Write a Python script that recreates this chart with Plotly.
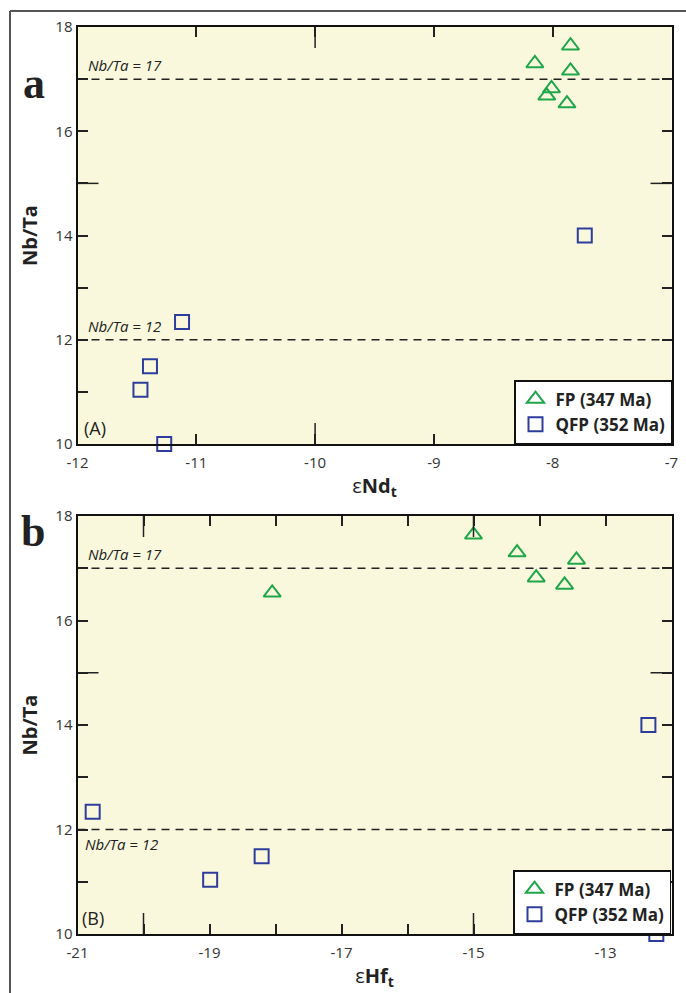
import plotly.graph_objects as go

W, H = 686, 993

# ---- data ----
fp_nbta = [17.64, 17.30, 17.16, 16.82, 16.68, 16.53]
fp_end = [-7.85, -8.15, -7.85, -8.01, -8.05, -7.88]
fp_ehf = [-15.00, -14.34, -13.44, -14.05, -13.62, -18.05]

qfp_nbta = [14.0, 12.34, 11.49, 11.04, 10.0]
qfp_end = [-7.73, -11.12, -11.39, -11.47, -11.27]
qfp_ehf = [-12.35, -20.77, -18.21, -18.99, -12.23]

ref_lines = [17, 12]
nd_range = [-12, -7]
hf_range = [-21, -12]
y_range = [10, 18]
nd_ticks = [-12, -11, -10, -9, -8, -7]
nd_ticktext = ["-12", "-11", "-10", "-9", "-8", "-7"]
hf_ticks = [-21, -19, -17, -15, -13]
hf_ticktext = ["-21", "-19", "-17", "-15", "-13"]
y_ticks = [10, 12, 14, 16, 18]

GREEN = "#1FA64B"
BLUE = "#2E3D9C"
BG = "#FAF8DC"
FONT = "Open Sans"


def px_x(p):
    return p / W


def px_y(p):
    return 1 - p / H


fig = go.Figure()

fp_label = "FP (347 Ma)"
qfp_label = "QFP (352 Ma)"

for xs_fp, xs_q, xa, ya, lg in [
    (fp_end, qfp_end, "x", "y", "legend"),
    (fp_ehf, qfp_ehf, "x2", "y2", "legend2"),
]:
    fig.add_trace(go.Scatter(
        x=xs_fp, y=fp_nbta, mode="markers", name=fp_label,
        marker=dict(symbol="triangle-up-open", size=15, color=GREEN, line=dict(width=2, color=GREEN)),
        xaxis=xa, yaxis=ya, legend=lg, cliponaxis=False))
    fig.add_trace(go.Scatter(
        x=xs_q, y=qfp_nbta, mode="markers", name=qfp_label,
        marker=dict(symbol="square-open", size=14, color=BLUE, line=dict(width=2, color=BLUE)),
        xaxis=xa, yaxis=ya, legend=lg, cliponaxis=False))

xdom = [px_x(77.5), px_x(671.5)]
ya_dom = [px_y(444), px_y(27)]
yb_dom = [px_y(934), px_y(516)]

axis_common = dict(
    showline=True, linecolor="#111", linewidth=2, mirror="allticks",
    ticks="inside", ticklen=10, tickwidth=1.5, tickcolor="#222",
    showgrid=False, zeroline=False, automargin=False,
    tickfont=dict(family=FONT, size=15, color="#333"),
)
minor = dict(ticks="inside", dtick=1, ticklen=10, tickwidth=1.5, tickcolor="#222", showgrid=False)

fig.update_layout(
    width=W, height=H,
    margin=dict(l=0, r=0, t=0, b=0, autoexpand=False),
    paper_bgcolor="white",
    plot_bgcolor=BG,
    font=dict(family=FONT, color="#222"),
    xaxis=dict(axis_common, domain=xdom, anchor="y", range=nd_range, tickvals=nd_ticks, ticktext=nd_ticktext,
               ticklabelstandoff=4,
               title=dict(text="ε<b>Nd<sub>t</sub></b>", font=dict(size=20, color="#222"), standoff=8)),
    yaxis=dict(axis_common, domain=ya_dom, anchor="x", range=y_range, tickvals=y_ticks, minor=minor,
               title=dict(text="<b>Nb/Ta</b>", font=dict(size=20, color="#222"), standoff=12)),
    xaxis2=dict(axis_common, domain=xdom, anchor="y2", range=hf_range, tickvals=hf_ticks, ticktext=hf_ticktext,
                minor=minor, ticklabelstandoff=4,
                title=dict(text="ε<b>Hf<sub>t</sub></b>", font=dict(size=20, color="#222"), standoff=8)),
    yaxis2=dict(axis_common, domain=yb_dom, anchor="x2", range=y_range, tickvals=y_ticks, minor=minor,
                title=dict(text="<b>Nb/Ta</b>", font=dict(size=20, color="#222"), standoff=12)),
    legend=dict(x=px_x(672), y=px_y(444), xanchor="right", yanchor="bottom",
                bgcolor="white", bordercolor="#111", borderwidth=1.5,
                font=dict(family=FONT, size=17, color="#222", weight="bold"),
                itemwidth=30, tracegroupgap=0),
    legend2=dict(x=px_x(671), y=px_y(934), xanchor="right", yanchor="bottom",
                 bgcolor="white", bordercolor="#111", borderwidth=1.5,
                 font=dict(family=FONT, size=17, color="#222", weight="bold"),
                 itemwidth=30, tracegroupgap=0),
    showlegend=True,
)

shapes = []
# reference dashed lines
for xr, yr in [("x domain", "y"), ("x2 domain", "y2")]:
    for v in ref_lines:
        shapes.append(dict(type="line", xref=xr, yref=yr, x0=0, x1=1, y0=v, y1=v,
                           line=dict(color="#222", width=1.5, dash="8px,6px"), layer="above"))

# longer ticks
LONG = 21
for xv in [-10]:
    shapes.append(dict(type="line", xref="x", yref="y domain", x0=xv, x1=xv, y0=0, y1=LONG / 417,
                       line=dict(color="#222", width=1.5)))
    shapes.append(dict(type="line", xref="x", yref="y domain", x0=xv, x1=xv, y0=1, y1=1 - LONG / 417,
                       line=dict(color="#222", width=1.5)))
for xv in [-20, -15]:
    shapes.append(dict(type="line", xref="x2", yref="y2 domain", x0=xv, x1=xv, y0=0, y1=LONG / 418,
                       line=dict(color="#222", width=1.5)))
    shapes.append(dict(type="line", xref="x2", yref="y2 domain", x0=xv, x1=xv, y0=1, y1=1 - LONG / 418,
                       line=dict(color="#222", width=1.5)))
for xr, yr in [("x domain", "y"), ("x2 domain", "y2")]:
    shapes.append(dict(type="line", xref=xr, yref=yr, x0=0, x1=LONG / 594, y0=15, y1=15,
                       line=dict(color="#222", width=1.5)))
    shapes.append(dict(type="line", xref=xr, yref=yr, x0=1, x1=1 - LONG / 594, y0=15, y1=15,
                       line=dict(color="#222", width=1.5)))

# outer frame (top and left)
shapes.append(dict(type="line", xref="paper", yref="paper", x0=px_x(10), x1=1.0, y0=px_y(11), y1=px_y(11),
                   line=dict(color="#555", width=2)))
shapes.append(dict(type="line", xref="paper", yref="paper", x0=px_x(10), x1=px_x(10), y0=px_y(11), y1=0,
                   line=dict(color="#555", width=2)))
fig.update_layout(shapes=shapes)

ann = []
# panel letters
letter_font = dict(family="Liberation Serif", size=44, color="#222")
ann.append(dict(text="<b>a</b>", xref="paper", yref="paper", x=px_x(46), y=px_y(58), showarrow=False,
                xanchor="right", borderpad=0, font=letter_font))
ann.append(dict(text="<b>b</b>", xref="paper", yref="paper", x=px_x(46), y=px_y(531), showarrow=False,
                xanchor="right", borderpad=0, font=letter_font))
# reference line labels
lab_font = dict(family=FONT, size=15, color="#222")
ann.append(dict(text="<i>Nb/Ta = 17</i>", xref="x domain", yref="y", x=0.015, y=17, yshift=2,
                xanchor="left", yanchor="bottom", showarrow=False, font=lab_font))
ann.append(dict(text="<i>Nb/Ta = 12</i>", xref="x domain", yref="y", x=0.015, y=12, yshift=2,
                xanchor="left", yanchor="bottom", showarrow=False, font=lab_font))
ann.append(dict(text="<i>Nb/Ta = 17</i>", xref="x2 domain", yref="y2", x=0.015, y=17, yshift=2,
                xanchor="left", yanchor="bottom", showarrow=False, font=lab_font))
ann.append(dict(text="<i>Nb/Ta = 12</i>", xref="x2 domain", yref="y2", x=0.01, y=12, yshift=-2,
                xanchor="left", yanchor="top", showarrow=False, font=lab_font))
# panel sub-labels
ann.append(dict(text="(A)", xref="x domain", yref="y domain", x=0.008, y=0.0, yshift=2,
                xanchor="left", yanchor="bottom", showarrow=False, font=dict(family=FONT, size=18, color="#222")))
ann.append(dict(text="(B)", xref="x2 domain", yref="y2 domain", x=0.005, y=0.0, yshift=2,
                xanchor="left", yanchor="bottom", showarrow=False, font=dict(family=FONT, size=18, color="#222")))
fig.update_layout(annotations=ann)

fig.write_html("out.html", config={"displayModeBar": False},
               post_script="document.body.style.margin='0';document.body.style.overflow='hidden';")
